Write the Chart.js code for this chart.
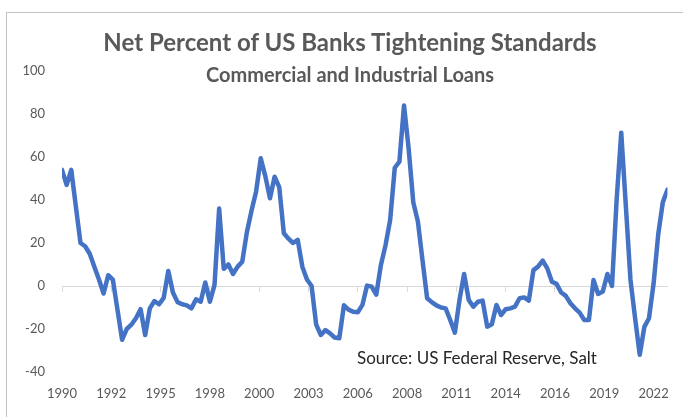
<!DOCTYPE html>
<html>
<head>
<meta charset="utf-8">
<title>Net Percent of US Banks Tightening Standards</title>
<script src="https://cdn.jsdelivr.net/npm/chart.js"></script>
<style>
  html, body { margin: 0; padding: 0; background: #fff; }
  body { width: 683px; height: 417px; position: relative; overflow: hidden; font-family: Lato, 'Open Sans', sans-serif; }
  #frame { position: absolute; left: 6px; top: 12px; width: 700px; height: 430px; border: 1px solid #c4c4c4; }
  #chart { position: absolute; left: 0; top: 0; }
  .txt { position: absolute; white-space: nowrap; }
  #title { left: 0; width: 700px; top: 27px; text-align: center; font-size: 24px; font-weight: bold; color: #595959; }
  #subtitle { left: 0; width: 700px; top: 62px; text-align: center; font-size: 20px; font-weight: bold; color: #595959; }
  #source { left: 357px; top: 347px; font-size: 17px; color: #262626; }
</style>
</head>
<body>
<div id="frame"></div>
<canvas id="chart" width="683" height="417"></canvas>
<div class="txt" id="title">Net Percent of US Banks Tightening Standards</div>
<div class="txt" id="subtitle">Commercial and Industrial Loans</div>
<div class="txt" id="source">Source: US Federal Reserve, Salt</div>
<script>
// quarterly survey, first value is 1990 Q2, one value per quarter up to 2023 Q1
const firstQuarter = '1990 Q2'
const tightening = [
  54, 47, 54, 37, 20, 18.5, 15, 9, 3, -3.5, 5, 3, -11, -25, -20, -18, -15, -10.8, -22.8, -10.4,
  -7, -8.5, -5.5, 7, -3, -7.5, -8.5, -9, -10.4, -6.2, -7.3, 1.6, -7.3, 0.5, 36, 8, 10, 5.6, 9, 11.3,
  25, 35, 44, 59.4, 51, 40.8, 50.8, 46, 24.5, 22, 20, 21.5, 9, 3, 0, -18, -22.8, -20.5, -22, -24,
  -24.3, -9, -11, -12, -12.2, -8.8, 0.2, -0.3, -4, 9.8, 19, 30.7, 55, 57.8, 84, 64, 39, 30, 12, -5.7,
  -7.5, -9, -10, -10.4, -15.8, -21.7, -6.5, 5.6, -6.5, -9.6, -7.3, -6.8, -18.9, -17.8, -8.8, -13.5, -10.8, -10.4, -9.6, -5.7,
  -5.3, -6.8, 7.4, 9, 11.8, 8.2, 2, 1, -3, -4.6, -8, -10.4, -12.4, -15.8, -15.8, 2.8, -3.7, -2.6, 5.6, 0,
  40, 71.3, 37, 2.8, -15, -32, -19, -15, 1.2, 24, 39, 44.8
]
// year labels shown on the date axis, one every 32 months
const tickLabels = ['1990', '1992', '1995', '1998', '2000', '2003', '2006', '2008', '2011', '2014', '2016', '2019', '2022']
const tickStepMonths = 32
const yTicks = [-40, -20, 0, 20, 40, 60, 80, 100]

// x is months since the first quarter
const points = tightening.map((v, i) => ({ x: i * 3, y: v }))
const lastMonth = (tightening.length - 1) * 3

function dateTicks (scale) {
  scale.ticks = tickLabels.map((_, k) => ({ value: k * tickStepMonths }))
}

const ctx = document.getElementById('chart').getContext('2d')
new Chart(ctx, {
  type: 'line',
  data: {
    datasets: [{
      label: 'Net percent tightening, from ' + firstQuarter,
      data: points,
      borderColor: '#4472C4',
      borderWidth: 4.5,
      pointRadius: 0,
      tension: 0,
      borderJoinStyle: 'round',
      borderCapStyle: 'round'
    }]
  },
  options: {
    responsive: false,
    animation: false,
    layout: { padding: { left: 0, top: 71, right: 14, bottom: 14 } },
    plugins: { legend: { display: false }, tooltip: { enabled: false } },
    scales: {
      x: {
        type: 'linear',
        min: 0,
        max: lastMonth,
        grid: { display: false, drawTicks: false },
        border: { display: false },
        afterBuildTicks: dateTicks,
        afterFit: s => { s.height = 31 },
        ticks: {
          autoSkip: false,
          maxRotation: 0,
          padding: 14,
          color: '#595959',
          font: { family: 'Lato', size: 13 },
          callback: (v, i) => tickLabels[i]
        }
      },
      zero: {
        type: 'linear',
        axis: 'x',
        position: { y: 0 },
        min: 0,
        max: lastMonth,
        grid: { drawOnChartArea: false, tickLength: 5, color: '#d9d9d9' },
        border: { color: '#d9d9d9', width: 1 },
        afterBuildTicks: dateTicks,
        ticks: { autoSkip: false, maxRotation: 0, callback: () => '' }
      },
      y: {
        min: yTicks[0],
        max: yTicks[yTicks.length - 1],
        grid: { display: false, drawTicks: false },
        border: { display: false },
        afterBuildTicks: s => { s.ticks = yTicks.map(v => ({ value: v })) },
        afterFit: s => { s.width = 62 },
        ticks: {
          padding: 17,
          color: '#595959',
          font: { family: 'Lato', size: 13 }
        }
      }
    }
  }
})
</script>
</body>
</html>
